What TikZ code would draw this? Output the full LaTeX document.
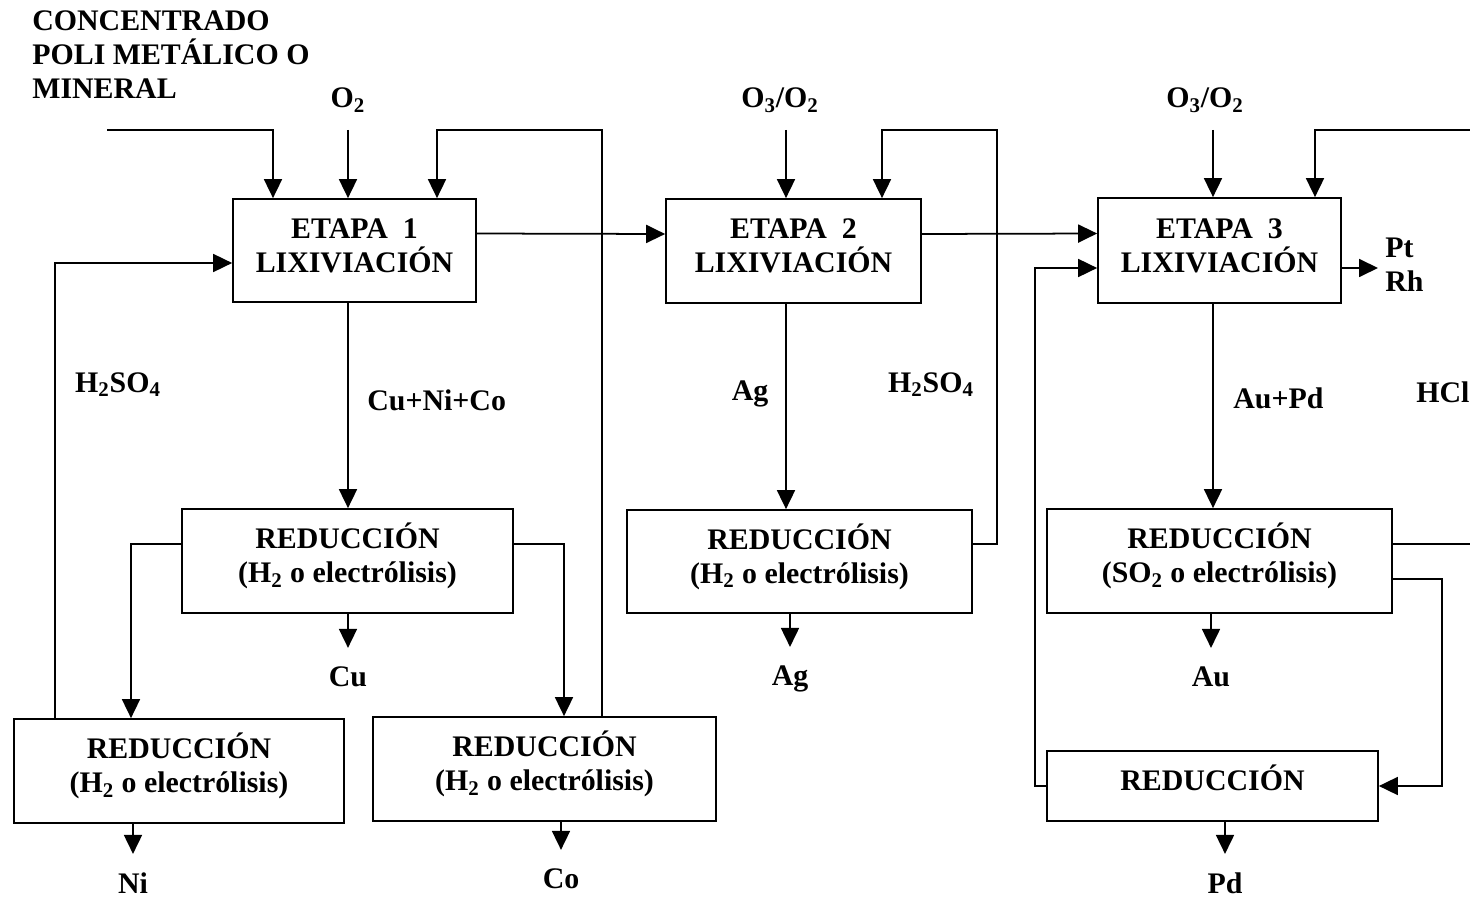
\documentclass[tikz,border=0pt]{standalone}
\usepackage{fontspec}
\setmainfont{Liberation Serif}
\usetikzlibrary{arrows.meta}

\begin{document}
\begin{tikzpicture}[x=0.02cm,y=-0.02cm,font=\bfseries\fontsize{17}{19.4}\selectfont,
  b/.style={draw,line width=1pt,align=center,inner sep=0pt,text depth=0.2cm},
  r/.style={b,text depth=0.33cm},
  a/.style={-{Triangle[length=0.38cm,width=0.36cm]},line width=1pt},
  l/.style={inner sep=0pt,anchor=base}]
  \useasboundingbox (0,0) rectangle (1470,898);
  \node[b,minimum width=4.86cm,minimum height=2.06cm] (e1) at (354.5,250.5) {ETAPA~~1\\LIXIVIACIÓN};
  \node[b,minimum width=5.10cm,minimum height=2.08cm] (e2) at (793.5,251) {ETAPA~~2\\LIXIVIACIÓN};
  \node[b,minimum width=4.86cm,minimum height=2.10cm] (e3) at (1219.5,250.5) {ETAPA~~3\\LIXIVIACIÓN};
  \node[r,minimum width=6.62cm,minimum height=2.08cm] (r1) at (347.5,561) {REDUCCIÓN\\(H\textsubscript{2} o electrólisis)};
  \node[r,minimum width=6.60cm,minimum height=2.08cm] (r2) at (179,771) {REDUCCIÓN\\(H\textsubscript{2} o electrólisis)};
  \node[r,minimum width=6.86cm,minimum height=2.08cm] (r3) at (544.5,769) {REDUCCIÓN\\(H\textsubscript{2} o electrólisis)};
  \node[r,minimum width=6.90cm,minimum height=2.06cm] (r4) at (799.5,561.5) {REDUCCIÓN\\(H\textsubscript{2} o electrólisis)};
  \node[r,minimum width=6.90cm,minimum height=2.08cm] (r5) at (1219.5,561) {REDUCCIÓN\\(SO\textsubscript{2} o electrólisis)};
  \node[r,minimum width=6.62cm,minimum height=1.40cm] (r6) at (1212.5,786) {REDUCCIÓN};
  \node[l,anchor=north west,align=left] (conc) at (32,10) {CONCENTRADO\\POLI METÁLICO O\\MINERAL};
  \node[l] (o2) at (348,108) {O\textsubscript{2}};
  \node[l] (o3a) at (780,108) {O\textsubscript{3}/O\textsubscript{2}};
  \node[l] (o3b) at (1205,108) {O\textsubscript{3}/O\textsubscript{2}};
  \node[l] (h2so4a) at (118,392) {H\textsubscript{2}SO\textsubscript{4}};
  \node[l,anchor=base west] (cunico) at (367,410) {Cu+Ni+Co};
  \node[l] (agmid) at (750,400) {Ag};
  \node[l] (h2so4b) at (931,392) {H\textsubscript{2}SO\textsubscript{4}};
  \node[l,anchor=base west] (aupd) at (1233,408) {Au+Pd};
  \node[l,anchor=base west] (hcl) at (1416,402) {HCl};
  \node[l,anchor=west,align=left] (ptrh) at (1385,265) {Pt\\Rh};
  \node[l] (cu) at (348,686) {Cu};
  \node[l] (ni) at (133,893) {Ni};
  \node[l] (co) at (561,888) {Co};
  \node[l] (ag) at (790,685) {Ag};
  \node[l] (au) at (1211,686) {Au};
  \node[l] (pd) at (1225,893) {Pd};
  \coordinate (feed) at (107,130);
  \coordinate (t1a) at (273,130);
  \coordinate (t1b) at (348,130);
  \coordinate (t1c) at (437,130);
  \coordinate (u1) at (602,130);
  \coordinate (t2a) at (786,130);
  \coordinate (t2b) at (882,130);
  \coordinate (u2) at (997,130);
  \coordinate (t3a) at (1213,130);
  \coordinate (t3b) at (1315,130);
  \coordinate (u3) at (1470,130);
  \coordinate (l1) at (55,263);
  \coordinate (l3) at (1035,268);
  \coordinate (k1) at (131,544);
  \coordinate (k2) at (564,544);
  \coordinate (k3) at (997,544);
  \coordinate (k4) at (1470,544);
  \coordinate (k5) at (1442,579);
  \draw[a] (feed) -| (t1a |- e1.north);
  \foreach \c/\n in {t1b/e1,t2a/e2,t3a/e3} \draw[a] (\c) -- (\c |- \n.north);
  \draw[a] (u1 |- r3.north) -- (u1) -| (t1c |- e1.north);
  \draw[a] (k3 -| r4.east) -- (k3) -- (u2) -| (t2b |- e2.north);
  \draw[line width=1pt] (k4 -| r5.east) -- (k4);
  \draw[a] (u3) -| (t3b |- e3.north);
  \draw[a] ([yshift=0.34cm]e1.east) -- ([yshift=0.34cm]e2.west);
  \draw[a] ([yshift=0.34cm]e2.east) -- ([yshift=0.34cm]e3.west);
  \draw[a] (l1 |- r2.north) -- (l1) -- (l1 -| e1.west);
  \draw[a] (r6.west) -| (l3) -- (l3 -| e3.west);
  \draw[a,shorten >=0.14cm] (l3 -| e3.east) -- (l3 -| ptrh.west);
  \foreach \c/\n/\m in {t1b/e1/r1,t2a/e2/r4,t3a/e3/r5} \draw[a] (\c |- \n.south) -- (\c |- \m.north);
  \draw[a] (k1 -| r1.west) -| (k1 |- r2.north);
  \draw[a] (k2 -| r1.east) -| (k2 |- r3.north);
  \draw[a] (k5 -| r5.east) -- (k5) |- (r6.east);
  \foreach \n/\o in {r1/cu,r2/ni,r3/co,r4/ag,r5/au,r6/pd} \draw[a,shorten >=0.36cm] (\o |- \n.south) -- (\o.north);
\end{tikzpicture}
\end{document}
